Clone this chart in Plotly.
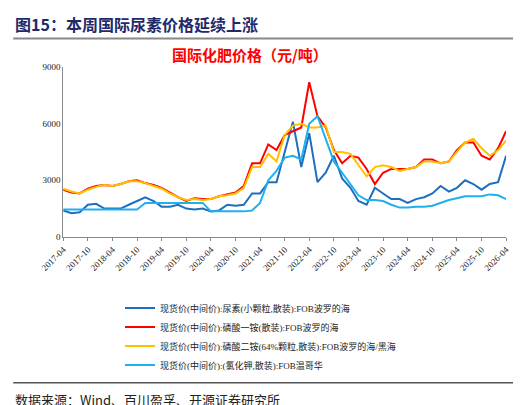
import plotly.graph_objects as go

# bi-monthly dates 2017-04 .. 2026-04
dates = []
for y in range(2017, 2027):
    for m in (2, 4, 6, 8, 10, 12):
        d = f"{y}-{m:02d}-01"
        if "2017-04-01" <= d <= "2026-04-01":
            dates.append(d)

urea = [1400, 1250, 1300, 1700, 1750,
        1500, 1500, 1500, 1700, 1900, 2100,
        1900, 1600, 1600, 1700, 1500, 1450,
        1500, 1350, 1400, 1700, 1650, 1700,
        2300, 2300, 2900, 2900, 4500, 6100,
        3700, 5500, 2900, 3400, 4300, 3100,
        2600, 1900, 1700, 2600, 2300, 2000,
        2000, 1800, 2000, 2100, 2300, 2700,
        2400, 2600, 3000, 2800, 2500, 2800,
        2900, 4300]
map_ = [2500, 2350, 2300, 2550, 2700,
        2750, 2700, 2800, 2950, 3000, 2850,
        2750, 2600, 2350, 2100, 1900, 2050,
        2000, 2000, 2150, 2250, 2350, 2700,
        3900, 3900, 4900, 4600, 5400, 5600,
        5800, 8200, 6400, 5800, 4600, 3900,
        4300, 4200, 3600, 2800, 3400, 3600,
        3600, 3600, 3700, 4100, 4100, 3900,
        4000, 4600, 5000, 5000, 4300, 4100,
        4700, 5600]
dap = [2550, 2400, 2300, 2500, 2650,
       2750, 2700, 2800, 2950, 2950, 2850,
       2700, 2550, 2300, 2100, 1950, 2000,
       1950, 2000, 2150, 2200, 2300, 2600,
       3700, 3700, 4400, 4000, 5400, 5900,
       6000, 5800, 5800, 5900, 4500, 4500,
       4400, 3800, 3200, 3700, 3800, 3700,
       3500, 3600, 3700, 4000, 4000, 3900,
       4000, 4500, 5000, 5200, 4700, 4300,
       4600, 5100]
potash = [1450, 1450, 1450, 1450, 1450,
          1450, 1450, 1450, 1450, 1450, 1800,
          1800, 1800, 1800, 1800, 1800, 1800,
          1800, 1350, 1350, 1350, 1350, 1350,
          1400, 1800, 3000, 3500, 4200, 4300,
          4100, 6000, 6400, 5200, 4000, 3400,
          2800, 2200, 1950, 1950, 1900, 1700,
          1550, 1550, 1600, 1600, 1650, 1800,
          1950, 2050, 2150, 2150, 2150, 2250,
          2200, 2000]

names = ["现货价(中间价):尿素(小颗粒,散装):FOB波罗的海",
         "现货价(中间价):磷酸一铵(散装):FOB波罗的海",
         "现货价(中间价):磷酸二铵(64%颗粒,散装):FOB波罗的海/黑海",
         "现货价(中间价):(氯化钾,散装):FOB温哥华"]
colors = ["#1F6FBF", "#FF0000", "#FFC000", "#1FB0EE"]

tick_vals = [f"{y}-{m}-01" for y in range(2017, 2027) for m in ("04", "10")][:-1]
tick_text = [v[:7] for v in tick_vals]

fig = go.Figure()
for series, name, c in zip([urea, map_, dap, potash], names, colors):
    fig.add_trace(go.Scatter(x=dates, y=series, name=name, mode="lines",
                             line=dict(color=c, width=2)))

SERIF = "Liberation Serif, Noto Sans CJK SC"
fig.update_layout(
    width=521, height=405, margin=dict(l=0, r=0, t=0, b=0),
    paper_bgcolor="white", plot_bgcolor="white",
    font=dict(family=SERIF, size=9, color="#222"),
    xaxis=dict(domain=[0.106, 0.956], range=["2017-04-01", "2026-04-01"],
               tickvals=tick_vals, ticktext=tick_text, tickangle=-45, automargin=False,
               showgrid=False, showline=True, linecolor="#888", ticks="outside",
               ticklen=3, tickcolor="#888", tickfont=dict(size=9)),
    yaxis=dict(domain=[0.435, 0.854], range=[0, 9000], tickvals=[0, 3000, 6000, 9000],
               automargin=False,
               showgrid=False, showline=True, linecolor="#888", tickfont=dict(size=9)),
    legend=dict(x=0.215, y=0.295, xanchor="left", yanchor="top",
                font=dict(size=9, family=SERIF), tracegroupgap=0,
                itemwidth=30, bgcolor="rgba(0,0,0,0)"),
    annotations=[
        dict(text="<b>图15：本周国际尿素价格延续上涨</b>", x=0.01, y=0.995, xref="paper", yref="paper",
             xanchor="left", yanchor="top", showarrow=False,
             font=dict(size=16, color="#1F2A6B", family="Noto Sans CJK SC")),
        dict(text="<b>国际化肥价格（元/吨）</b>", x=0.31, y=0.885, xref="paper", yref="paper",
             xanchor="left", yanchor="middle", showarrow=False,
             font=dict(size=15, color="#FF0000", family="Noto Sans CJK SC")),
        dict(text="数据来源：Wind、百川盈孚、开源证券研究所", x=0.01, y=0.005, xref="paper", yref="paper",
             xanchor="left", yanchor="bottom", showarrow=False,
             font=dict(size=13, color="#222", family="Noto Sans CJK SC")),
    ],
    shapes=[
        dict(type="line", xref="paper", yref="paper", x0=0.01, x1=0.99, y0=0.925, y1=0.925,
             line=dict(color="#888", width=2)),
        dict(type="line", xref="paper", yref="paper", x0=0.01, x1=0.99, y0=0.075, y1=0.075,
             line=dict(color="#555", width=1.5)),
    ],
)
fig.write_html("out.html")
